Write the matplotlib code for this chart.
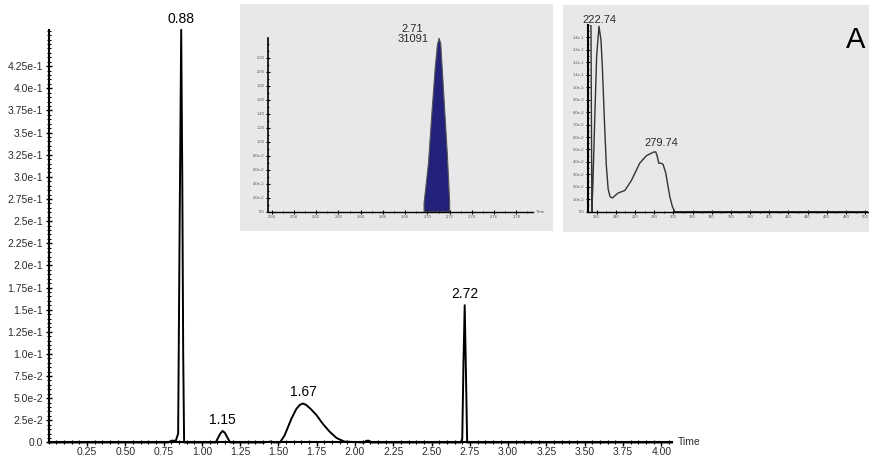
import matplotlib.pyplot as plt
from matplotlib.ticker import MultipleLocator, FixedLocator

plt.rcParams['font.family'] = ['Liberation Sans', 'DejaVu Sans']

# main chromatogram (time in min, absorbance)
tempo = [0.0, 0.50, 0.78, 0.80, 0.83, 0.845, 0.855, 0.865, 0.872, 0.878, 0.884, 0.90,
         1.09, 1.105, 1.12, 1.135, 1.15, 1.165, 1.185, 1.40, 1.45, 1.47,
         1.51, 1.54, 1.585, 1.617, 1.64, 1.66, 1.68, 1.71, 1.748, 1.79, 1.835, 1.88, 1.93,
         2.06, 2.075, 2.09, 2.10, 2.69, 2.70, 2.708, 2.716, 2.724, 2.732, 2.75, 4.07]
absorb = [0.0, 0.0, 0.0, 0.002, 0.002, 0.01, 0.25, 0.466, 0.30, 0.10, 0.0, 0.0,
          0.0, 0.005, 0.010, 0.013, 0.011, 0.006, 0.0, 0.0, 0.001, 0.0,
          0.0, 0.008, 0.027, 0.038, 0.0425, 0.044, 0.0425, 0.038, 0.031, 0.021, 0.012, 0.005, 0.001,
          0.0, 0.002, 0.002, 0.0, 0.0, 0.004, 0.09, 0.155, 0.08, 0.0, 0.0, 0.0]

picos = ["0.88", "1.15", "1.67", "2.72"]
picos_x = [0.865, 1.135, 1.66, 2.716]
picos_y = [0.466, 0.013, 0.044, 0.155]

x_ticks = [0.25, 0.50, 0.75, 1.00, 1.25, 1.50, 1.75, 2.00, 2.25, 2.50, 2.75, 3.00, 3.25, 3.50, 3.75, 4.00]
y_ticks = [0.0, 0.025, 0.05, 0.075, 0.10, 0.125, 0.15, 0.175, 0.20, 0.225, 0.25,
           0.275, 0.30, 0.325, 0.35, 0.375, 0.40, 0.425]
y_labels = ["0.0", "2.5e-2", "5.0e-2", "7.5e-2", "1.0e-1", "1.25e-1", "1.5e-1", "1.75e-1",
            "2.0e-1", "2.25e-1", "2.5e-1", "2.75e-1", "3.0e-1", "3.25e-1", "3.5e-1",
            "3.75e-1", "4.0e-1", "4.25e-1"]

# inset 1: integrated peak
pico_t = [2.697, 2.697, 2.701, 2.704, 2.707, 2.709, 2.7105, 2.712, 2.715, 2.718, 2.720, 2.720]
pico_v = [0.0, 0.012, 0.07, 0.14, 0.205, 0.238, 0.248, 0.24, 0.16, 0.08, 0.014, 0.0]
ins1_xticks = [2.56, 2.58, 2.60, 2.62, 2.64, 2.66, 2.68, 2.70, 2.72, 2.74, 2.76, 2.78]
ins1_yticks = [0.0, 0.02, 0.04, 0.06, 0.08, 0.10, 0.12, 0.14, 0.16, 0.18, 0.20, 0.22]
ins1_ylabels = ["0.0", "2.0e-2", "4.0e-2", "6.0e-2", "8.0e-2", "1.00", "1.20", "1.40",
                "1.60", "1.80", "2.00", "2.20"]

# inset 2: UV spectrum
onda = [214, 215, 216, 218, 220, 222.4, 224.5, 226, 228, 230, 232, 234, 236.4, 242.3, 249.3, 256.2,
        264.9, 271.9, 277.1, 279.7, 281.6, 283, 284.8, 287, 289.3, 292.1, 296.3, 299, 301.5, 503]
espectro = [0.16, 0.0, 0.02, 0.075, 0.125, 0.149, 0.138, 0.115, 0.075, 0.038, 0.018, 0.012, 0.011,
            0.015, 0.017, 0.025, 0.039, 0.045, 0.047, 0.048, 0.048, 0.045, 0.039, 0.039, 0.038,
            0.031, 0.012, 0.004, 0.0, 0.0]
ins2_xticks = list(range(220, 501, 20))
ins2_yticks = [0.0, 0.01, 0.02, 0.03, 0.04, 0.05, 0.06, 0.07, 0.08, 0.09, 0.10, 0.11, 0.12, 0.13, 0.14]
ins2_ylabels = ["0.0", "1.0e-2", "2.0e-2", "3.0e-2", "4.0e-2", "5.0e-2", "6.0e-2", "7.0e-2",
                "8.0e-2", "9.0e-2", "1.0e-1", "1.1e-1", "1.2e-1", "1.3e-1", "1.4e-1"]

cinza = '#e8e8eb'
texto = '#2b2b2b'

fig = plt.figure(figsize=(8.7, 4.59), dpi=100)

# ---- main chromatogram
ax = fig.add_axes([0.056, 0.036, 0.7165, 0.899])
ax.plot(tempo, absorb, color='black', lw=1.4, clip_on=False)
ax.set_xlim(0, 4.07)
ax.set_ylim(0, 0.466)
ax.spines['top'].set_visible(False)
ax.spines['right'].set_visible(False)
ax.spines['left'].set_linewidth(1.5)
ax.spines['bottom'].set_linewidth(1.5)
ax.xaxis.set_major_locator(FixedLocator(x_ticks))
ax.set_xticklabels([f"{v:.2f}" for v in x_ticks])
ax.xaxis.set_minor_locator(MultipleLocator(0.05))
ax.set_yticks(y_ticks)
ax.set_yticklabels(y_labels)
ax.yaxis.set_minor_locator(MultipleLocator(0.005))
ax.tick_params(axis='both', which='major', labelsize=7.5, labelcolor=texto, width=1, length=4, pad=1.5)
ax.tick_params(axis='x', which='major', direction='out', length=3, pad=0.5)
ax.tick_params(axis='y', which='major', direction='inout', length=5)
ax.tick_params(axis='both', which='minor', direction='inout', length=3, width=0.8)
ax.text(1.01, 0.0, "Time", transform=ax.transAxes, fontsize=7.5, color=texto, va='center', ha='left')
for lab, px, py in zip(picos, picos_x, picos_y):
    ax.annotate(lab, (px, py), xytext=(0, 3), textcoords='offset points',
                ha='center', va='bottom', fontsize=10, color='black', annotation_clip=False)

# ---- inset 1 panel
p1 = fig.add_axes([0.2759, 0.4967, 0.3598, 0.4946], zorder=2)
p1.set_facecolor(cinza)
p1.set_xticks([])
p1.set_yticks([])
for s in p1.spines.values():
    s.set_visible(False)

a1 = fig.add_axes([0.3077, 0.5388, 0.305, 0.3784], zorder=3)
a1.patch.set_alpha(0)
a1.fill(pico_t, pico_v, facecolor='#22227a', edgecolor='#555555', lw=0.8)
a1.set_xlim(2.5564, 2.795)
a1.set_ylim(0, 0.248)
a1.spines['top'].set_visible(False)
a1.spines['right'].set_visible(False)
a1.spines['left'].set_linewidth(1.2)
a1.spines['bottom'].set_linewidth(1.0)
a1.set_xticks(ins1_xticks)
a1.set_xticklabels([f"{v:.2f}" for v in ins1_xticks])
a1.xaxis.set_minor_locator(MultipleLocator(0.01))
a1.set_yticks(ins1_yticks)
a1.set_yticklabels(ins1_ylabels)
a1.yaxis.set_minor_locator(MultipleLocator(0.01))
a1.tick_params(axis='both', which='major', labelsize=3, labelcolor='#555555', direction='inout',
               length=3, width=0.8, pad=1)
a1.tick_params(axis='both', which='minor', direction='inout', length=2, width=0.6)
a1.text(1.01, 0.0, "Time", transform=a1.transAxes, fontsize=3, color='#555555', va='center')
a1.annotate("2.71\n31091", (2.7105, 0.248), xytext=(-19, 3), textcoords='offset points',
            ha='center', va='center', fontsize=8, color=texto, linespacing=0.95)

# ---- inset 2 panel
p2 = fig.add_axes([0.6471, 0.4946, 0.3529, 0.4946], zorder=2)
p2.set_facecolor(cinza)
p2.set_xticks([])
p2.set_yticks([])
for s in p2.spines.values():
    s.set_visible(False)

a2 = fig.add_axes([0.6759, 0.5388, 0.3218, 0.4067], zorder=3)
a2.patch.set_alpha(0)
a2.plot(onda, espectro, color='#333333', lw=1.0)
a2.set_xlim(211, 503)
a2.set_ylim(0, 0.15)
a2.spines['top'].set_visible(False)
a2.spines['right'].set_visible(False)
a2.spines['left'].set_linewidth(1.5)
a2.spines['bottom'].set_linewidth(1.0)
a2.set_xticks(ins2_xticks)
a2.xaxis.set_minor_locator(MultipleLocator(10))
a2.set_yticks(ins2_yticks)
a2.set_yticklabels(ins2_ylabels)
a2.yaxis.set_minor_locator(MultipleLocator(0.005))
a2.tick_params(axis='both', which='major', labelsize=3, labelcolor='#555555', direction='inout',
               length=3, width=0.8, pad=1)
a2.tick_params(axis='both', which='minor', direction='inout', length=2, width=0.6)
a2.annotate("222.74", (222.4, 0.149), xytext=(0, 1), textcoords='offset points',
            ha='center', va='bottom', fontsize=8, color=texto, annotation_clip=False)
a2.annotate("279.74", (281.6, 0.048), xytext=(4, 3), textcoords='offset points',
            ha='center', va='bottom', fontsize=8, color=texto)

fig.text(0.995, 0.913, "A", fontsize=21, color='black', ha='right', va='center', zorder=4)

fig.savefig("out.png", dpi=100)
